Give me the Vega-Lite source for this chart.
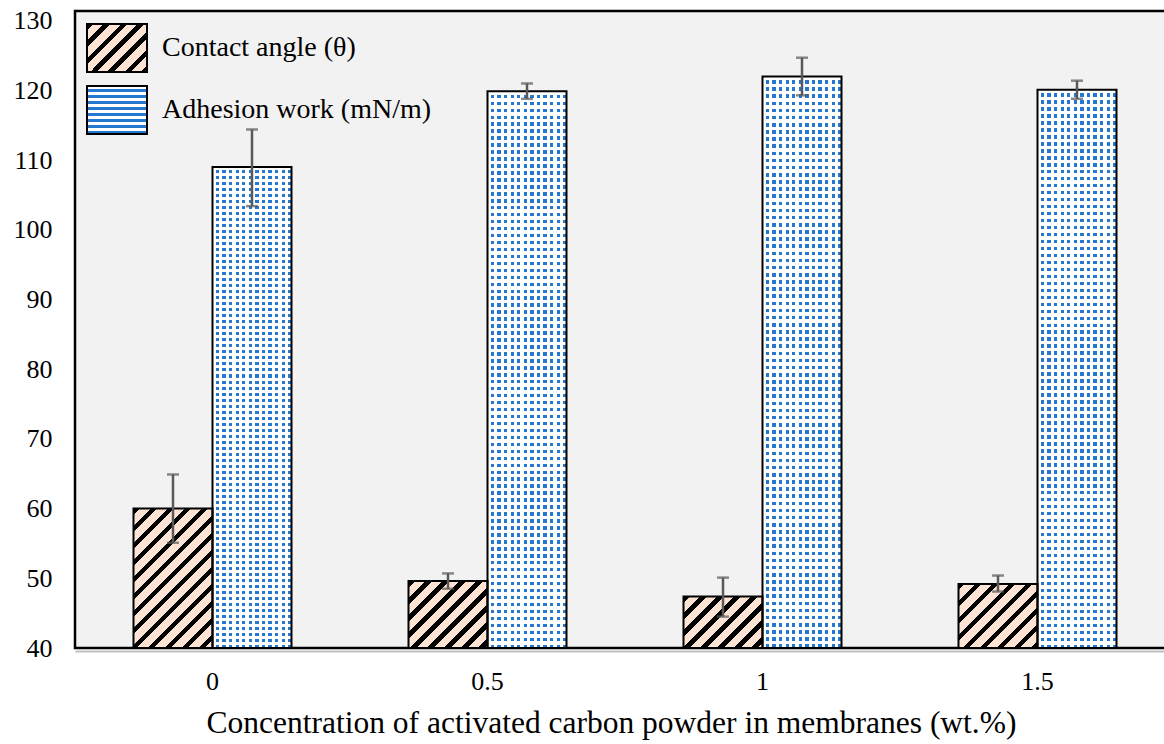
{
  "$schema": "https://vega.github.io/schema/vega-lite/v6.json",
  "width": 1089,
  "height": 637,
  "autosize": {"type": "none"},
  "padding": {"left": 75, "top": 11, "right": 0, "bottom": 96},
  "background": "white",
  "config": {
    "font": "Liberation Serif",
    "view": {"fill": "#f2f2f2", "stroke": "#000", "strokeWidth": 2.5, "strokeDash": [1089, 637, 1726]},
    "axis": {"labelFont": "Liberation Serif", "titleFont": "Liberation Serif", "labelColor": "#000", "titleColor": "#000", "grid": false, "ticks": false}
  },
  "data": {
    "values": [
      {"conc": "0", "series": "Contact angle (θ)", "value": 60.0, "lo": 55.1, "hi": 64.9},
      {"conc": "0.5", "series": "Contact angle (θ)", "value": 49.6, "lo": 48.5, "hi": 50.7},
      {"conc": "1", "series": "Contact angle (θ)", "value": 47.4, "lo": 44.5, "hi": 50.1},
      {"conc": "1.5", "series": "Contact angle (θ)", "value": 49.2, "lo": 48.1, "hi": 50.4},
      {"conc": "0", "series": "Adhesion work (mN/m)", "value": 109.0, "lo": 103.4, "hi": 114.4},
      {"conc": "0.5", "series": "Adhesion work (mN/m)", "value": 119.9, "lo": 118.8, "hi": 121.0},
      {"conc": "1", "series": "Adhesion work (mN/m)", "value": 122.0, "lo": 119.3, "hi": 124.7},
      {"conc": "1.5", "series": "Adhesion work (mN/m)", "value": 120.1, "lo": 118.8, "hi": 121.4}
    ]
  },
  "encoding": {
    "x": {
      "field": "conc", "type": "nominal", "sort": null,
      "scale": {"domain": ["0", "0.5", "1", "1.5"], "range": [0, 1100], "paddingInner": 0.42545, "paddingOuter": 0.212725},
      "axis": {
        "title": "Concentration of activated carbon powder in membranes (wt.%)",
        "labelAngle": 0, "labelFontSize": 26, "labelPadding": 17,
        "domainColor": "#c0c0c0", "domainWidth": 2, "offset": 3,
        "titleFontSize": 31.5, "titleFontWeight": "normal", "titlePadding": 13, "titleX": 536
      }
    },
    "xOffset": {
      "field": "series", "type": "nominal", "sort": null,
      "scale": {"domain": ["Contact angle (θ)", "Adhesion work (mN/m)"], "paddingInner": 0, "paddingOuter": 0}
    },
    "y": {
      "field": "value", "type": "quantitative", "title": null,
      "scale": {"domain": [40, 131.4], "nice": false, "zero": false},
      "axis": {"tickCount": 10, "labelFontSize": 26, "labelPadding": 23, "domain": false}
    }
  },
  "layer": [
    {
      "mark": {"type": "bar", "strokeWidth": 0},
      "encoding": {
        "y2": {"datum": 40},
        "fill": {
          "field": "series", "type": "nominal", "sort": null,
          "scale": {
            "domain": ["Contact angle (θ)", "Adhesion work (mN/m)"],
            "range": [
              {"expr": "{gradient:'linear',x1:0,y1:0,x2:2.439,y2:1.951,stops:[{offset:0,color:'#000'},{offset:0.0269,color:'#000'},{offset:0.0269,color:'#fde3d3'},{offset:0.0708,color:'#fde3d3'},{offset:0.0708,color:'#000'},{offset:0.0977,color:'#000'},{offset:0.0977,color:'#fde3d3'},{offset:0.1417,color:'#fde3d3'},{offset:0.1417,color:'#000'},{offset:0.1686,color:'#000'},{offset:0.1686,color:'#fde3d3'},{offset:0.2125,color:'#fde3d3'},{offset:0.2125,color:'#000'},{offset:0.2394,color:'#000'},{offset:0.2394,color:'#fde3d3'},{offset:0.2833,color:'#fde3d3'},{offset:0.2833,color:'#000'},{offset:0.3102,color:'#000'},{offset:0.3102,color:'#fde3d3'},{offset:0.3542,color:'#fde3d3'},{offset:0.3542,color:'#000'},{offset:0.3811,color:'#000'},{offset:0.3811,color:'#fde3d3'},{offset:0.425,color:'#fde3d3'},{offset:0.425,color:'#000'},{offset:0.4519,color:'#000'},{offset:0.4519,color:'#fde3d3'},{offset:0.4958,color:'#fde3d3'},{offset:0.4958,color:'#000'},{offset:0.5227,color:'#000'},{offset:0.5227,color:'#fde3d3'},{offset:1,color:'#fde3d3'}]}"},
              {"expr": "{gradient:'linear',x1:0,y1:0,x2:0,y2:1,stops:[{offset:0,color:'#fff'},{offset:0.0625,color:'#fff'},{offset:0.0625,color:'#2478cf'},{offset:0.125,color:'#2478cf'},{offset:0.125,color:'#fff'},{offset:0.1875,color:'#fff'},{offset:0.1875,color:'#2478cf'},{offset:0.25,color:'#2478cf'},{offset:0.25,color:'#fff'},{offset:0.3125,color:'#fff'},{offset:0.3125,color:'#2478cf'},{offset:0.375,color:'#2478cf'},{offset:0.375,color:'#fff'},{offset:0.4375,color:'#fff'},{offset:0.4375,color:'#2478cf'},{offset:0.5,color:'#2478cf'},{offset:0.5,color:'#fff'},{offset:0.5625,color:'#fff'},{offset:0.5625,color:'#2478cf'},{offset:0.625,color:'#2478cf'},{offset:0.625,color:'#fff'},{offset:0.6875,color:'#fff'},{offset:0.6875,color:'#2478cf'},{offset:0.75,color:'#2478cf'},{offset:0.75,color:'#fff'},{offset:0.8125,color:'#fff'},{offset:0.8125,color:'#2478cf'},{offset:0.875,color:'#2478cf'},{offset:0.875,color:'#fff'},{offset:0.9375,color:'#fff'},{offset:0.9375,color:'#2478cf'},{offset:1,color:'#2478cf'}]}"}
            ]
          },
          "legend": {
            "orient": "none", "legendX": 11, "legendY": 6, "title": null, "padding": 0,
            "symbolType": "M-1,-0.8H1V0.8H-1Z", "symbolSize": 3600,
            "symbolStrokeColor": "#000", "symbolStrokeWidth": 2, "symbolOpacity": 1,
            "labelFont": "Liberation Serif", "labelFontSize": 28, "labelColor": "#000",
            "labelOffset": 14, "labelLimit": 400, "rowPadding": 3
          },
          "condition": [
            {"test": "datum.series === 'Adhesion work (mN/m)'", "value": "#2478cf"},
            {"test": "datum.conc === '0'", "value": {"gradient": "linear", "x1": 0, "y1": 0, "x2": 0.7386, "y2": 1.3032, "stops": [{"offset":0,"color":"#000"},{"offset":0.0269,"color":"#000"},{"offset":0.0269,"color":"#fde3d3"},{"offset":0.0708,"color":"#fde3d3"},{"offset":0.0708,"color":"#000"},{"offset":0.0977,"color":"#000"},{"offset":0.0977,"color":"#fde3d3"},{"offset":0.1417,"color":"#fde3d3"},{"offset":0.1417,"color":"#000"},{"offset":0.1686,"color":"#000"},{"offset":0.1686,"color":"#fde3d3"},{"offset":0.2125,"color":"#fde3d3"},{"offset":0.2125,"color":"#000"},{"offset":0.2394,"color":"#000"},{"offset":0.2394,"color":"#fde3d3"},{"offset":0.2833,"color":"#fde3d3"},{"offset":0.2833,"color":"#000"},{"offset":0.3102,"color":"#000"},{"offset":0.3102,"color":"#fde3d3"},{"offset":0.3542,"color":"#fde3d3"},{"offset":0.3542,"color":"#000"},{"offset":0.3811,"color":"#000"},{"offset":0.3811,"color":"#fde3d3"},{"offset":0.425,"color":"#fde3d3"},{"offset":0.425,"color":"#000"},{"offset":0.4519,"color":"#000"},{"offset":0.4519,"color":"#fde3d3"},{"offset":0.4958,"color":"#fde3d3"},{"offset":0.4958,"color":"#000"},{"offset":0.5227,"color":"#000"},{"offset":0.5227,"color":"#fde3d3"},{"offset":0.5667,"color":"#fde3d3"},{"offset":0.5667,"color":"#000"},{"offset":0.5936,"color":"#000"},{"offset":0.5936,"color":"#fde3d3"},{"offset":0.6375,"color":"#fde3d3"},{"offset":0.6375,"color":"#000"},{"offset":0.6644,"color":"#000"},{"offset":0.6644,"color":"#fde3d3"},{"offset":0.7083,"color":"#fde3d3"},{"offset":0.7083,"color":"#000"},{"offset":0.7352,"color":"#000"},{"offset":0.7352,"color":"#fde3d3"},{"offset":0.7792,"color":"#fde3d3"},{"offset":0.7792,"color":"#000"},{"offset":0.8061,"color":"#000"},{"offset":0.8061,"color":"#fde3d3"},{"offset":0.85,"color":"#fde3d3"},{"offset":0.85,"color":"#000"},{"offset":0.8769,"color":"#000"},{"offset":0.8769,"color":"#fde3d3"},{"offset":0.9208,"color":"#fde3d3"},{"offset":0.9208,"color":"#000"},{"offset":0.9477,"color":"#000"},{"offset":0.9477,"color":"#fde3d3"},{"offset":1,"color":"#fde3d3"}]}},
            {"test": "datum.conc === '0.5'", "value": {"gradient": "linear", "x1": 0, "y1": 0, "x2": 1.769, "y2": 1.4983, "stops": [{"offset":0,"color":"#000"},{"offset":0.0269,"color":"#000"},{"offset":0.0269,"color":"#fde3d3"},{"offset":0.0708,"color":"#fde3d3"},{"offset":0.0708,"color":"#000"},{"offset":0.0977,"color":"#000"},{"offset":0.0977,"color":"#fde3d3"},{"offset":0.1417,"color":"#fde3d3"},{"offset":0.1417,"color":"#000"},{"offset":0.1686,"color":"#000"},{"offset":0.1686,"color":"#fde3d3"},{"offset":0.2125,"color":"#fde3d3"},{"offset":0.2125,"color":"#000"},{"offset":0.2394,"color":"#000"},{"offset":0.2394,"color":"#fde3d3"},{"offset":0.2833,"color":"#fde3d3"},{"offset":0.2833,"color":"#000"},{"offset":0.3102,"color":"#000"},{"offset":0.3102,"color":"#fde3d3"},{"offset":0.3542,"color":"#fde3d3"},{"offset":0.3542,"color":"#000"},{"offset":0.3811,"color":"#000"},{"offset":0.3811,"color":"#fde3d3"},{"offset":0.425,"color":"#fde3d3"},{"offset":0.425,"color":"#000"},{"offset":0.4519,"color":"#000"},{"offset":0.4519,"color":"#fde3d3"},{"offset":0.4958,"color":"#fde3d3"},{"offset":0.4958,"color":"#000"},{"offset":0.5227,"color":"#000"},{"offset":0.5227,"color":"#fde3d3"},{"offset":0.5667,"color":"#fde3d3"},{"offset":0.5667,"color":"#000"},{"offset":0.5936,"color":"#000"},{"offset":0.5936,"color":"#fde3d3"},{"offset":1,"color":"#fde3d3"}]}},
            {"test": "datum.conc === '1'", "value": {"gradient": "linear", "x1": 0, "y1": 0, "x2": 2.1302, "y2": 1.3906, "stops": [{"offset":0,"color":"#000"},{"offset":0.0269,"color":"#000"},{"offset":0.0269,"color":"#fde3d3"},{"offset":0.0708,"color":"#fde3d3"},{"offset":0.0708,"color":"#000"},{"offset":0.0977,"color":"#000"},{"offset":0.0977,"color":"#fde3d3"},{"offset":0.1417,"color":"#fde3d3"},{"offset":0.1417,"color":"#000"},{"offset":0.1686,"color":"#000"},{"offset":0.1686,"color":"#fde3d3"},{"offset":0.2125,"color":"#fde3d3"},{"offset":0.2125,"color":"#000"},{"offset":0.2394,"color":"#000"},{"offset":0.2394,"color":"#fde3d3"},{"offset":0.2833,"color":"#fde3d3"},{"offset":0.2833,"color":"#000"},{"offset":0.3102,"color":"#000"},{"offset":0.3102,"color":"#fde3d3"},{"offset":0.3542,"color":"#fde3d3"},{"offset":0.3542,"color":"#000"},{"offset":0.3811,"color":"#000"},{"offset":0.3811,"color":"#fde3d3"},{"offset":0.425,"color":"#fde3d3"},{"offset":0.425,"color":"#000"},{"offset":0.4519,"color":"#000"},{"offset":0.4519,"color":"#fde3d3"},{"offset":0.4958,"color":"#fde3d3"},{"offset":0.4958,"color":"#000"},{"offset":0.5227,"color":"#000"},{"offset":0.5227,"color":"#fde3d3"},{"offset":1,"color":"#fde3d3"}]}},
            {"test": "datum.conc === '1.5'", "value": {"gradient": "linear", "x1": 0, "y1": 0, "x2": 1.8315, "y2": 1.4865, "stops": [{"offset":0,"color":"#000"},{"offset":0.0269,"color":"#000"},{"offset":0.0269,"color":"#fde3d3"},{"offset":0.0708,"color":"#fde3d3"},{"offset":0.0708,"color":"#000"},{"offset":0.0977,"color":"#000"},{"offset":0.0977,"color":"#fde3d3"},{"offset":0.1417,"color":"#fde3d3"},{"offset":0.1417,"color":"#000"},{"offset":0.1686,"color":"#000"},{"offset":0.1686,"color":"#fde3d3"},{"offset":0.2125,"color":"#fde3d3"},{"offset":0.2125,"color":"#000"},{"offset":0.2394,"color":"#000"},{"offset":0.2394,"color":"#fde3d3"},{"offset":0.2833,"color":"#fde3d3"},{"offset":0.2833,"color":"#000"},{"offset":0.3102,"color":"#000"},{"offset":0.3102,"color":"#fde3d3"},{"offset":0.3542,"color":"#fde3d3"},{"offset":0.3542,"color":"#000"},{"offset":0.3811,"color":"#000"},{"offset":0.3811,"color":"#fde3d3"},{"offset":0.425,"color":"#fde3d3"},{"offset":0.425,"color":"#000"},{"offset":0.4519,"color":"#000"},{"offset":0.4519,"color":"#fde3d3"},{"offset":0.4958,"color":"#fde3d3"},{"offset":0.4958,"color":"#000"},{"offset":0.5227,"color":"#000"},{"offset":0.5227,"color":"#fde3d3"},{"offset":0.5667,"color":"#fde3d3"},{"offset":0.5667,"color":"#000"},{"offset":0.5936,"color":"#000"},{"offset":0.5936,"color":"#fde3d3"},{"offset":1,"color":"#fde3d3"}]}}
          ]
        }
      }
    },
    {
      "transform": [{"filter": "datum.series === 'Adhesion work (mN/m)'"}],
      "mark": {"type": "bar", "strokeWidth": 0, "fill": {"gradient": "linear", "x1": 0, "y1": 0, "x2": 0, "y2": 1, "stops": [
        {"offset":0,"color":"#fff"},{"offset":0.00625,"color":"#fff"},{"offset":0.00625,"color":"transparent"},{"offset":0.0125,"color":"transparent"},{"offset":0.0125,"color":"#fff"},{"offset":0.01875,"color":"#fff"},{"offset":0.01875,"color":"transparent"},{"offset":0.025,"color":"transparent"},{"offset":0.025,"color":"#fff"},{"offset":0.03125,"color":"#fff"},{"offset":0.03125,"color":"transparent"},{"offset":0.0375,"color":"transparent"},{"offset":0.0375,"color":"#fff"},{"offset":0.04375,"color":"#fff"},{"offset":0.04375,"color":"transparent"},{"offset":0.05,"color":"transparent"},
        {"offset":0.05,"color":"#fff"},{"offset":0.05625,"color":"#fff"},{"offset":0.05625,"color":"transparent"},{"offset":0.0625,"color":"transparent"},{"offset":0.0625,"color":"#fff"},{"offset":0.06875,"color":"#fff"},{"offset":0.06875,"color":"transparent"},{"offset":0.075,"color":"transparent"},{"offset":0.075,"color":"#fff"},{"offset":0.08125,"color":"#fff"},{"offset":0.08125,"color":"transparent"},{"offset":0.0875,"color":"transparent"},{"offset":0.0875,"color":"#fff"},{"offset":0.09375,"color":"#fff"},{"offset":0.09375,"color":"transparent"},{"offset":0.1,"color":"transparent"},
        {"offset":0.1,"color":"#fff"},{"offset":0.10625,"color":"#fff"},{"offset":0.10625,"color":"transparent"},{"offset":0.1125,"color":"transparent"},{"offset":0.1125,"color":"#fff"},{"offset":0.11875,"color":"#fff"},{"offset":0.11875,"color":"transparent"},{"offset":0.125,"color":"transparent"},{"offset":0.125,"color":"#fff"},{"offset":0.13125,"color":"#fff"},{"offset":0.13125,"color":"transparent"},{"offset":0.1375,"color":"transparent"},{"offset":0.1375,"color":"#fff"},{"offset":0.14375,"color":"#fff"},{"offset":0.14375,"color":"transparent"},{"offset":0.15,"color":"transparent"},
        {"offset":0.15,"color":"#fff"},{"offset":0.15625,"color":"#fff"},{"offset":0.15625,"color":"transparent"},{"offset":0.1625,"color":"transparent"},{"offset":0.1625,"color":"#fff"},{"offset":0.16875,"color":"#fff"},{"offset":0.16875,"color":"transparent"},{"offset":0.175,"color":"transparent"},{"offset":0.175,"color":"#fff"},{"offset":0.18125,"color":"#fff"},{"offset":0.18125,"color":"transparent"},{"offset":0.1875,"color":"transparent"},{"offset":0.1875,"color":"#fff"},{"offset":0.19375,"color":"#fff"},{"offset":0.19375,"color":"transparent"},{"offset":0.2,"color":"transparent"},
        {"offset":0.2,"color":"#fff"},{"offset":0.20625,"color":"#fff"},{"offset":0.20625,"color":"transparent"},{"offset":0.2125,"color":"transparent"},{"offset":0.2125,"color":"#fff"},{"offset":0.21875,"color":"#fff"},{"offset":0.21875,"color":"transparent"},{"offset":0.225,"color":"transparent"},{"offset":0.225,"color":"#fff"},{"offset":0.23125,"color":"#fff"},{"offset":0.23125,"color":"transparent"},{"offset":0.2375,"color":"transparent"},{"offset":0.2375,"color":"#fff"},{"offset":0.24375,"color":"#fff"},{"offset":0.24375,"color":"transparent"},{"offset":0.25,"color":"transparent"},
        {"offset":0.25,"color":"#fff"},{"offset":0.25625,"color":"#fff"},{"offset":0.25625,"color":"transparent"},{"offset":0.2625,"color":"transparent"},{"offset":0.2625,"color":"#fff"},{"offset":0.26875,"color":"#fff"},{"offset":0.26875,"color":"transparent"},{"offset":0.275,"color":"transparent"},{"offset":0.275,"color":"#fff"},{"offset":0.28125,"color":"#fff"},{"offset":0.28125,"color":"transparent"},{"offset":0.2875,"color":"transparent"},{"offset":0.2875,"color":"#fff"},{"offset":0.29375,"color":"#fff"},{"offset":0.29375,"color":"transparent"},{"offset":0.3,"color":"transparent"},
        {"offset":0.3,"color":"#fff"},{"offset":0.30625,"color":"#fff"},{"offset":0.30625,"color":"transparent"},{"offset":0.3125,"color":"transparent"},{"offset":0.3125,"color":"#fff"},{"offset":0.31875,"color":"#fff"},{"offset":0.31875,"color":"transparent"},{"offset":0.325,"color":"transparent"},{"offset":0.325,"color":"#fff"},{"offset":0.33125,"color":"#fff"},{"offset":0.33125,"color":"transparent"},{"offset":0.3375,"color":"transparent"},{"offset":0.3375,"color":"#fff"},{"offset":0.34375,"color":"#fff"},{"offset":0.34375,"color":"transparent"},{"offset":0.35,"color":"transparent"},
        {"offset":0.35,"color":"#fff"},{"offset":0.35625,"color":"#fff"},{"offset":0.35625,"color":"transparent"},{"offset":0.3625,"color":"transparent"},{"offset":0.3625,"color":"#fff"},{"offset":0.36875,"color":"#fff"},{"offset":0.36875,"color":"transparent"},{"offset":0.375,"color":"transparent"},{"offset":0.375,"color":"#fff"},{"offset":0.38125,"color":"#fff"},{"offset":0.38125,"color":"transparent"},{"offset":0.3875,"color":"transparent"},{"offset":0.3875,"color":"#fff"},{"offset":0.39375,"color":"#fff"},{"offset":0.39375,"color":"transparent"},{"offset":0.4,"color":"transparent"},
        {"offset":0.4,"color":"#fff"},{"offset":0.40625,"color":"#fff"},{"offset":0.40625,"color":"transparent"},{"offset":0.4125,"color":"transparent"},{"offset":0.4125,"color":"#fff"},{"offset":0.41875,"color":"#fff"},{"offset":0.41875,"color":"transparent"},{"offset":0.425,"color":"transparent"},{"offset":0.425,"color":"#fff"},{"offset":0.43125,"color":"#fff"},{"offset":0.43125,"color":"transparent"},{"offset":0.4375,"color":"transparent"},{"offset":0.4375,"color":"#fff"},{"offset":0.44375,"color":"#fff"},{"offset":0.44375,"color":"transparent"},{"offset":0.45,"color":"transparent"},
        {"offset":0.45,"color":"#fff"},{"offset":0.45625,"color":"#fff"},{"offset":0.45625,"color":"transparent"},{"offset":0.4625,"color":"transparent"},{"offset":0.4625,"color":"#fff"},{"offset":0.46875,"color":"#fff"},{"offset":0.46875,"color":"transparent"},{"offset":0.475,"color":"transparent"},{"offset":0.475,"color":"#fff"},{"offset":0.48125,"color":"#fff"},{"offset":0.48125,"color":"transparent"},{"offset":0.4875,"color":"transparent"},{"offset":0.4875,"color":"#fff"},{"offset":0.49375,"color":"#fff"},{"offset":0.49375,"color":"transparent"},{"offset":0.5,"color":"transparent"},
        {"offset":0.5,"color":"#fff"},{"offset":0.50625,"color":"#fff"},{"offset":0.50625,"color":"transparent"},{"offset":0.5125,"color":"transparent"},{"offset":0.5125,"color":"#fff"},{"offset":0.51875,"color":"#fff"},{"offset":0.51875,"color":"transparent"},{"offset":0.525,"color":"transparent"},{"offset":0.525,"color":"#fff"},{"offset":0.53125,"color":"#fff"},{"offset":0.53125,"color":"transparent"},{"offset":0.5375,"color":"transparent"},{"offset":0.5375,"color":"#fff"},{"offset":0.54375,"color":"#fff"},{"offset":0.54375,"color":"transparent"},{"offset":0.55,"color":"transparent"},
        {"offset":0.55,"color":"#fff"},{"offset":0.55625,"color":"#fff"},{"offset":0.55625,"color":"transparent"},{"offset":0.5625,"color":"transparent"},{"offset":0.5625,"color":"#fff"},{"offset":0.56875,"color":"#fff"},{"offset":0.56875,"color":"transparent"},{"offset":0.575,"color":"transparent"},{"offset":0.575,"color":"#fff"},{"offset":0.58125,"color":"#fff"},{"offset":0.58125,"color":"transparent"},{"offset":0.5875,"color":"transparent"},{"offset":0.5875,"color":"#fff"},{"offset":0.59375,"color":"#fff"},{"offset":0.59375,"color":"transparent"},{"offset":0.6,"color":"transparent"},
        {"offset":0.6,"color":"#fff"},{"offset":0.60625,"color":"#fff"},{"offset":0.60625,"color":"transparent"},{"offset":0.6125,"color":"transparent"},{"offset":0.6125,"color":"#fff"},{"offset":0.61875,"color":"#fff"},{"offset":0.61875,"color":"transparent"},{"offset":0.625,"color":"transparent"},{"offset":0.625,"color":"#fff"},{"offset":0.63125,"color":"#fff"},{"offset":0.63125,"color":"transparent"},{"offset":0.6375,"color":"transparent"},{"offset":0.6375,"color":"#fff"},{"offset":0.64375,"color":"#fff"},{"offset":0.64375,"color":"transparent"},{"offset":0.65,"color":"transparent"},
        {"offset":0.65,"color":"#fff"},{"offset":0.65625,"color":"#fff"},{"offset":0.65625,"color":"transparent"},{"offset":0.6625,"color":"transparent"},{"offset":0.6625,"color":"#fff"},{"offset":0.66875,"color":"#fff"},{"offset":0.66875,"color":"transparent"},{"offset":0.675,"color":"transparent"},{"offset":0.675,"color":"#fff"},{"offset":0.68125,"color":"#fff"},{"offset":0.68125,"color":"transparent"},{"offset":0.6875,"color":"transparent"},{"offset":0.6875,"color":"#fff"},{"offset":0.69375,"color":"#fff"},{"offset":0.69375,"color":"transparent"},{"offset":0.7,"color":"transparent"},
        {"offset":0.7,"color":"#fff"},{"offset":0.70625,"color":"#fff"},{"offset":0.70625,"color":"transparent"},{"offset":0.7125,"color":"transparent"},{"offset":0.7125,"color":"#fff"},{"offset":0.71875,"color":"#fff"},{"offset":0.71875,"color":"transparent"},{"offset":0.725,"color":"transparent"},{"offset":0.725,"color":"#fff"},{"offset":0.73125,"color":"#fff"},{"offset":0.73125,"color":"transparent"},{"offset":0.7375,"color":"transparent"},{"offset":0.7375,"color":"#fff"},{"offset":0.74375,"color":"#fff"},{"offset":0.74375,"color":"transparent"},{"offset":0.75,"color":"transparent"},
        {"offset":0.75,"color":"#fff"},{"offset":0.75625,"color":"#fff"},{"offset":0.75625,"color":"transparent"},{"offset":0.7625,"color":"transparent"},{"offset":0.7625,"color":"#fff"},{"offset":0.76875,"color":"#fff"},{"offset":0.76875,"color":"transparent"},{"offset":0.775,"color":"transparent"},{"offset":0.775,"color":"#fff"},{"offset":0.78125,"color":"#fff"},{"offset":0.78125,"color":"transparent"},{"offset":0.7875,"color":"transparent"},{"offset":0.7875,"color":"#fff"},{"offset":0.79375,"color":"#fff"},{"offset":0.79375,"color":"transparent"},{"offset":0.8,"color":"transparent"},
        {"offset":0.8,"color":"#fff"},{"offset":0.80625,"color":"#fff"},{"offset":0.80625,"color":"transparent"},{"offset":0.8125,"color":"transparent"},{"offset":0.8125,"color":"#fff"},{"offset":0.81875,"color":"#fff"},{"offset":0.81875,"color":"transparent"},{"offset":0.825,"color":"transparent"},{"offset":0.825,"color":"#fff"},{"offset":0.83125,"color":"#fff"},{"offset":0.83125,"color":"transparent"},{"offset":0.8375,"color":"transparent"},{"offset":0.8375,"color":"#fff"},{"offset":0.84375,"color":"#fff"},{"offset":0.84375,"color":"transparent"},{"offset":0.85,"color":"transparent"},
        {"offset":0.85,"color":"#fff"},{"offset":0.85625,"color":"#fff"},{"offset":0.85625,"color":"transparent"},{"offset":0.8625,"color":"transparent"},{"offset":0.8625,"color":"#fff"},{"offset":0.86875,"color":"#fff"},{"offset":0.86875,"color":"transparent"},{"offset":0.875,"color":"transparent"},{"offset":0.875,"color":"#fff"},{"offset":0.88125,"color":"#fff"},{"offset":0.88125,"color":"transparent"},{"offset":0.8875,"color":"transparent"},{"offset":0.8875,"color":"#fff"},{"offset":0.89375,"color":"#fff"},{"offset":0.89375,"color":"transparent"},{"offset":0.9,"color":"transparent"},
        {"offset":0.9,"color":"#fff"},{"offset":0.90625,"color":"#fff"},{"offset":0.90625,"color":"transparent"},{"offset":0.9125,"color":"transparent"},{"offset":0.9125,"color":"#fff"},{"offset":0.91875,"color":"#fff"},{"offset":0.91875,"color":"transparent"},{"offset":0.925,"color":"transparent"},{"offset":0.925,"color":"#fff"},{"offset":0.93125,"color":"#fff"},{"offset":0.93125,"color":"transparent"},{"offset":0.9375,"color":"transparent"},{"offset":0.9375,"color":"#fff"},{"offset":0.94375,"color":"#fff"},{"offset":0.94375,"color":"transparent"},{"offset":0.95,"color":"transparent"},
        {"offset":0.95,"color":"#fff"},{"offset":0.95625,"color":"#fff"},{"offset":0.95625,"color":"transparent"},{"offset":0.9625,"color":"transparent"},{"offset":0.9625,"color":"#fff"},{"offset":0.96875,"color":"#fff"},{"offset":0.96875,"color":"transparent"},{"offset":0.975,"color":"transparent"},{"offset":0.975,"color":"#fff"},{"offset":0.98125,"color":"#fff"},{"offset":0.98125,"color":"transparent"},{"offset":0.9875,"color":"transparent"},{"offset":0.9875,"color":"#fff"},{"offset":0.99375,"color":"#fff"},{"offset":0.99375,"color":"transparent"},{"offset":1,"color":"transparent"}
      ]}},
      "encoding": {"y2": {"datum": 40}}
    },
    {
      "transform": [{"filter": "datum.series === 'Adhesion work (mN/m)'"}],
      "mark": {"type": "bar", "strokeWidth": 0, "fill": {"gradient": "linear", "x1": 0, "y1": 0, "x2": 1, "y2": 0, "stops": [
        {"offset":0,"color":"#fff"},{"offset":0.0417,"color":"#fff"},{"offset":0.0417,"color":"transparent"},{"offset":0.0833,"color":"transparent"},
        {"offset":0.0833,"color":"#fff"},{"offset":0.125,"color":"#fff"},{"offset":0.125,"color":"transparent"},{"offset":0.1667,"color":"transparent"},
        {"offset":0.1667,"color":"#fff"},{"offset":0.2083,"color":"#fff"},{"offset":0.2083,"color":"transparent"},{"offset":0.25,"color":"transparent"},
        {"offset":0.25,"color":"#fff"},{"offset":0.2917,"color":"#fff"},{"offset":0.2917,"color":"transparent"},{"offset":0.3333,"color":"transparent"},
        {"offset":0.3333,"color":"#fff"},{"offset":0.375,"color":"#fff"},{"offset":0.375,"color":"transparent"},{"offset":0.4167,"color":"transparent"},
        {"offset":0.4167,"color":"#fff"},{"offset":0.4583,"color":"#fff"},{"offset":0.4583,"color":"transparent"},{"offset":0.5,"color":"transparent"},
        {"offset":0.5,"color":"#fff"},{"offset":0.5417,"color":"#fff"},{"offset":0.5417,"color":"transparent"},{"offset":0.5833,"color":"transparent"},
        {"offset":0.5833,"color":"#fff"},{"offset":0.625,"color":"#fff"},{"offset":0.625,"color":"transparent"},{"offset":0.6667,"color":"transparent"},
        {"offset":0.6667,"color":"#fff"},{"offset":0.7083,"color":"#fff"},{"offset":0.7083,"color":"transparent"},{"offset":0.75,"color":"transparent"},
        {"offset":0.75,"color":"#fff"},{"offset":0.7917,"color":"#fff"},{"offset":0.7917,"color":"transparent"},{"offset":0.8333,"color":"transparent"},
        {"offset":0.8333,"color":"#fff"},{"offset":0.875,"color":"#fff"},{"offset":0.875,"color":"transparent"},{"offset":0.9167,"color":"transparent"},
        {"offset":0.9167,"color":"#fff"},{"offset":0.9583,"color":"#fff"},{"offset":0.9583,"color":"transparent"},{"offset":1,"color":"transparent"}
      ]}},
      "encoding": {"y2": {"datum": 40}}
    },
    {
      "mark": {"type": "bar", "fill": "transparent", "stroke": "#000", "strokeWidth": 2},
      "encoding": {"y2": {"datum": 40}}
    },
    {
      "mark": {"type": "rule", "color": "#595959", "strokeWidth": 2.5},
      "encoding": {
        "y": {"field": "lo", "type": "quantitative", "title": null},
        "y2": {"field": "hi"}
      }
    },
    {
      "mark": {"type": "tick", "color": "#595959", "size": 12, "thickness": 2.5, "orient": "horizontal"},
      "encoding": {"y": {"field": "hi", "type": "quantitative", "title": null}}
    },
    {
      "mark": {"type": "tick", "color": "#595959", "size": 12, "thickness": 2.5, "orient": "horizontal"},
      "encoding": {"y": {"field": "lo", "type": "quantitative", "title": null}}
    }
  ]
}
